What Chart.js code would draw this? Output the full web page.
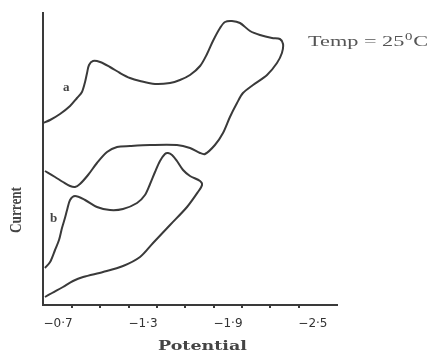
<!DOCTYPE html>
<html lang="en">
<head>
<meta charset="UTF-8">
<title>Cyclic Voltammogram</title>
<script src="https://cdn.jsdelivr.net/npm/chart.js"></script>
<style>
  html, body { margin: 0; padding: 0; background: #fff; }
  canvas { display: block; }
</style>
</head>
<body>
<canvas id="cv" width="437" height="354"></canvas>
<script>
// sweep a: potential (V) and current (arbitrary units), one closed loop
const potentialA = [-0.594, -0.644, -0.714, -0.785, -0.834, -0.869, -0.891, -0.905, -0.919, -0.947,
  -0.997, -1.067, -1.138, -1.208, -1.279, -1.385, -1.491, -1.561, -1.632, -1.703,
  -1.752, -1.794, -1.844, -1.879, -1.928, -1.985, -2.056, -2.126, -2.211, -2.267,
  -2.289, -2.281, -2.246, -2.176, -2.077, -2.006, -1.964, -1.914, -1.865, -1.808,
  -1.738, -1.703, -1.632, -1.540, -1.350, -1.208, -1.117, -1.046, -0.975, -0.912,
  -0.855, -0.820, -0.785, -0.735, -0.679, -0.608];
const currentA = [18.2, 18.5, 19.1, 19.9, 20.7, 21.3, 22.3, 23.2, 24.0, 24.4,
  24.3, 23.8, 23.2, 22.7, 22.4, 22.1, 22.2, 22.5, 23.0, 23.9,
  25.1, 26.4, 27.7, 28.3, 28.4, 28.2, 27.4, 27.0, 26.7, 26.6,
  26.1, 25.2, 24.2, 23.0, 22.0, 21.2, 20.2, 18.8, 17.2, 16.0,
  15.1, 15.2, 15.7, 16.0, 16.0, 15.9, 15.8, 15.3, 14.2, 13.0,
  12.1, 11.8, 11.9, 12.3, 12.8, 13.4];

// sweep b
const potentialB = [-0.608, -0.644, -0.679, -0.707, -0.728, -0.749, -0.764, -0.785, -0.820, -0.891,
  -0.975, -1.067, -1.159, -1.258, -1.314, -1.350, -1.385, -1.420, -1.455, -1.477,
  -1.505, -1.540, -1.583, -1.632, -1.703, -1.717, -1.688, -1.611, -1.491, -1.371,
  -1.279, -1.159, -1.018, -0.877, -0.806, -0.735, -0.658, -0.608];
const currentB = [3.7, 4.3, 5.5, 6.5, 7.7, 8.7, 9.5, 10.5, 10.9, 10.5,
  9.8, 9.5, 9.6, 10.2, 11.0, 12.1, 13.3, 14.4, 15.1, 15.2,
  15.0, 14.4, 13.5, 12.9, 12.4, 12.0, 11.3, 9.8, 8.0, 6.2,
  4.8, 3.9, 3.3, 2.8, 2.4, 1.8, 1.2, 0.8];

// x axis: labelled values and the small tick marks between them
const labelValues = [-0.7, -1.3, -1.9, -2.5];
const tickLabels = ['−0·7', '−1·3', '−1·9', '−2·5'];
const markValues = [-0.8, -1.0, -1.2, -1.4, -1.6, -1.8, -2.0, -2.2, -2.4];

const ink = '#3a3a3a';
const near = (a, b) => Math.abs(a - b) < 1e-6;
const toPoints = (xs, ys) => xs.map((x, i) => ({ x: x, y: ys[i] }));

// draw a string squeezed/stretched to a given width
function fitText(ctx, text, x, y, width, font) {
  ctx.save();
  ctx.font = font;
  const w = ctx.measureText(text).width;
  ctx.translate(x, y);
  ctx.scale(width / w, 1);
  ctx.fillText(text, 0, 0);
  ctx.restore();
}

const annotations = {
  id: 'annotations',
  afterDraw(chart) {
    const ctx = chart.ctx;
    ctx.save();
    ctx.textBaseline = 'alphabetic';
    ctx.textAlign = 'left';

    // small tick marks on the potential axis
    const xs = chart.scales.x;
    const yBase = chart.chartArea.bottom;
    ctx.strokeStyle = ink;
    ctx.lineWidth = 2;
    markValues.forEach(v => {
      const px = Math.round(xs.getPixelForValue(v));
      ctx.beginPath();
      ctx.moveTo(px, yBase);
      ctx.lineTo(px, yBase + 3);
      ctx.stroke();
    });

    // curve labels
    ctx.fillStyle = '#444';
    ctx.font = 'bold 13px "Liberation Serif"';
    ctx.fillText('a', 63, 91);
    ctx.fillText('b', 50, 222);

    // temperature note with superscript degree
    ctx.fillStyle = '#555';
    ctx.save();
    ctx.translate(308, 46);
    const big = '15px "Liberation Serif"', small = '10px "Liberation Serif"';
    ctx.font = big;
    const w1 = ctx.measureText('Temp = 25').width;
    const w3 = ctx.measureText('C').width;
    ctx.font = small;
    const w2 = ctx.measureText('0').width;
    ctx.scale(120 / (w1 + w2 + w3 + 1), 1);
    ctx.font = big;
    ctx.fillText('Temp = 25', 0, 0);
    ctx.font = small;
    ctx.fillText('0', w1 + 0.5, -6);
    ctx.font = big;
    ctx.fillText('C', w1 + w2 + 1, 0);
    ctx.restore();

    // axis titles
    ctx.fillStyle = '#444';
    fitText(ctx, 'Potential', 158, 350, 89, 'bold 13px "DejaVu Serif"');
    ctx.save();
    ctx.translate(21, 233);
    ctx.rotate(-Math.PI / 2);
    fitText(ctx, 'Current', 0, 0, 46, 'bold 16px "Liberation Serif"');
    ctx.restore();

    ctx.restore();
  }
};

const lineStyle = {
  showLine: true,
  borderColor: ink,
  borderWidth: 2,
  pointRadius: 0,
  tension: 0.3,
  fill: false
};

new Chart(document.getElementById('cv'), {
  type: 'scatter',
  data: {
    datasets: [
      Object.assign({ label: 'a', data: toPoints(potentialA, currentA) }, lineStyle),
      Object.assign({ label: 'b', data: toPoints(potentialB, currentB) }, lineStyle)
    ]
  },
  options: {
    responsive: false,
    animation: false,
    layout: { padding: { left: 43, right: 100, top: 13, bottom: 0 } },
    plugins: { legend: { display: false }, tooltip: { enabled: false } },
    scales: {
      x: {
        type: 'linear',
        reverse: true,
        min: -2.670,
        max: -0.594,
        afterBuildTicks: s => {
          s.ticks = labelValues.map(v => ({ value: v }));
        },
        afterFit: s => { s.height = 49; },
        border: { display: true, color: ink, width: 2 },
        grid: { display: false },
        ticks: {
          autoSkip: false,
          maxRotation: 0,
          padding: 4,
          color: '#333',
          font: { family: 'DejaVu Sans', size: 12 },
          callback: v => {
            const i = labelValues.findIndex(l => near(l, v));
            return i >= 0 ? tickLabels[i] : '';
          }
        }
      },
      y: {
        type: 'linear',
        min: 0,
        max: 29.2,
        afterFit: s => { s.width = 0; },
        border: { display: true, color: ink, width: 2 },
        grid: { display: false },
        ticks: { display: false }
      }
    }
  },
  plugins: [annotations]
});
</script>
</body>
</html>
